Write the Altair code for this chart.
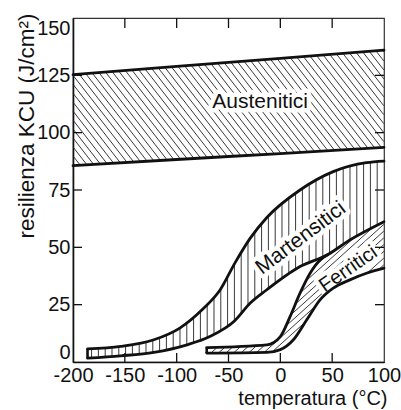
import altair as alt
import numpy as np
import pandas as pd

# ---------------- data ----------------
x_ticks = [-200, -150, -100, -50, 0, 50, 100]
y_ticks = [0, 25, 50, 75, 100, 125, 150]
x_inner_ticks = [-150, -100, -50, 0, 50]
y_inner_ticks = [25, 50, 75, 100, 125]

aus_up_x = [-200, -100, 0, 100]
aus_up_y = [125.3, 128.9, 132.4, 136.0]
aus_lo_x = [-200, -100, 0, 100]
aus_lo_y = [85.6, 88.3, 90.9, 93.6]

mar_up_x = [-186, -154, -122, -97, -75, -58, -44, -29, -13, 19, 51, 83, 100]
mar_up_y = [5.7, 6.8, 9.7, 14.8, 23.0, 31.5, 43.0, 54.0, 63.0, 75.0, 83.0, 86.9, 87.6]
mar_lo_x = [-186, -154, -122, -90, -68, -44, -29, -13, 19, 46, 67, 100]
mar_lo_y = [1.7, 2.7, 4.2, 7.5, 11.1, 18.0, 25.7, 31.5, 41.6, 46.9, 53.2, 61.2]

fer_up_x = [-71, -13, 0, 9.4, 19, 28.7, 38.3, 46]
fer_up_y = [6.3, 7.5, 11.1, 19.8, 30.0, 38.7, 44.5, 46.9]
fer_lo_x = [-71, -13, 0, 12.6, 25.5, 38.3, 51, 67, 83, 100]
fer_lo_y = [3.9, 4.2, 5.4, 9.7, 18.4, 27.1, 32.2, 35.8, 38.7, 40.9]

label_text = ["Austenitici", "Martensitici", "Ferritici"]
label_x = [-19.5, 19.8, 65.5]
label_y = [113.4, 54.0, 40.5]
label_angle = [0, 323, 325]
label_size = [21, 21, 20]

# ---------------- geometry helpers ----------------
W, H = 311, 344
XMIN, XMAX, YMIN, YMAX = -200, 100, 0, 150
FONT = "Liberation Sans"
INK = "#111111"


def mono(xs, ys, xq):
    """Monotone-X cubic, same as d3/vega 'monotone' interpolation."""
    xs = np.asarray(xs, float)
    ys = np.asarray(ys, float)
    xq = np.asarray(xq, float)
    n = len(xs)
    if n == 2:
        return np.interp(xq, xs, ys)
    h = np.diff(xs)
    s = np.diff(ys) / h
    t = np.zeros(n)
    for i in range(1, n - 1):
        h0, h1, s0, s1 = h[i - 1], h[i], s[i - 1], s[i]
        p = (s0 * h1 + s1 * h0) / (h0 + h1)
        t[i] = (np.sign(s0) + np.sign(s1)) * min(abs(s0), abs(s1), 0.5 * abs(p))
    t[0] = (3 * s[0] - t[1]) / 2
    t[-1] = (3 * s[-1] - t[-2]) / 2
    i = np.clip(np.searchsorted(xs, xq, side="right") - 1, 0, n - 2)
    dx = h[i]
    u = (xq - xs[i]) / dx
    h00 = 2 * u**3 - 3 * u**2 + 1
    h10 = u**3 - 2 * u**2 + u
    h01 = -2 * u**3 + 3 * u**2
    h11 = u**3 - u**2
    return h00 * ys[i] + h10 * dx * t[i] + h01 * ys[i + 1] + h11 * dx * t[i + 1]


def to_px(x):
    return (np.asarray(x, float) - XMIN) * W / (XMAX - XMIN)


def to_x(px):
    return XMIN + np.asarray(px, float) * (XMAX - XMIN) / W


def to_y(py):
    return (H - np.asarray(py, float)) * (YMAX - YMIN) / H


def diag_hatch(lo, hi, x0, x1, angle, gap, rising):
    k = np.tan(np.radians(angle))
    px = np.arange(0, W, 0.2)
    xd = to_x(px)
    xc = np.clip(xd, x0, x1)
    lo_v, hi_v = lo(xc), hi(xc)
    inband = (xd >= x0) & (xd <= x1)
    rows = []
    for c in np.arange(-H / k - gap, W + H / k + gap, gap):
        py = H - k * (px - c) if rising else k * (px - c)
        yd = to_y(py)
        ins = inband & (yd >= lo_v) & (yd <= hi_v)
        if not ins.any():
            continue
        d = np.diff(np.concatenate([[0], ins.astype(int), [0]]))
        starts = np.flatnonzero(d == 1)
        ends = np.flatnonzero(d == -1) - 1
        for a, b in zip(starts, ends):
            if b - a < 3:
                continue
            rows.append((xd[a], yd[a], xd[b], yd[b]))
    return rows


def vert_hatch(lo, hi, x0, x1, gap):
    pxs = np.arange(to_px(x0) + gap * 0.6, to_px(x1) - 0.5, gap)
    xs_ = to_x(pxs)
    return [(x, lo(x), x, hi(x)) for x in xs_]


aus_lo_f = lambda x: mono(aus_lo_x, aus_lo_y, x)
aus_hi_f = lambda x: mono(aus_up_x, aus_up_y, x)
mar_lo_f = lambda x: mono(mar_lo_x, mar_lo_y, x)
mar_hi_f = lambda x: mono(mar_up_x, mar_up_y, x)
fer_lo_f = lambda x: mono(fer_lo_x, fer_lo_y, x)
fer_hi_f = lambda x: np.where(np.asarray(x) <= fer_up_x[-1],
                              mono(fer_up_x, fer_up_y, np.minimum(x, fer_up_x[-1])),
                              mono(mar_lo_x, mar_lo_y, x))

rows = []
rows += diag_hatch(aus_lo_f, aus_hi_f, aus_up_x[0], aus_up_x[-1], 52, 7.0, rising=False)
rows += vert_hatch(mar_lo_f, mar_hi_f, mar_up_x[0], mar_up_x[-1], 6.8)
rows += diag_hatch(fer_lo_f, fer_hi_f, fer_up_x[0], fer_lo_x[-1], 42, 7.5, rising=True)
hatch_df = pd.DataFrame(rows, columns=["x", "y", "x2", "y2"])

curves = []
for name, xs_, ys_ in [("aus_up", aus_up_x, aus_up_y), ("aus_lo", aus_lo_x, aus_lo_y),
                        ("mar_up", mar_up_x, mar_up_y), ("mar_lo", mar_lo_x, mar_lo_y),
                        ("fer_up", fer_up_x, fer_up_y), ("fer_lo", fer_lo_x, fer_lo_y)]:
    curves.append(pd.DataFrame({"x": xs_, "y": ys_, "curve": name}))
lines_df = pd.concat(curves, ignore_index=True)

edges_df = pd.DataFrame({"x": [mar_up_x[0], fer_up_x[0]],
                         "y": [mar_lo_y[0], fer_lo_y[0]],
                         "y2": [mar_up_y[0], fer_up_y[0]]})

labels_df = pd.DataFrame({"text": label_text, "x": label_x, "y": label_y,
                          "angle": label_angle, "size": label_size})
xt_df = pd.DataFrame({"v": x_inner_ticks})
yt_df = pd.DataFrame({"v": y_inner_ticks})

# ---------------- scales and axes ----------------
xs = alt.Scale(domain=[XMIN, XMAX], nice=False, zero=False)
ys = alt.Scale(domain=[YMIN, YMAX], nice=False, zero=False)

x_axis = alt.Axis(values=x_ticks, labelExpr="'' + datum.value", grid=False, ticks=False, tickSize=0,
                  domainColor=INK, domainWidth=1.6, labelFont=FONT, labelFontSize=20, labelColor=INK,
                  labelPadding=3, labelFlush=False, labelOverlap=False,
                  title="temperatura (°C)", titleFont=FONT, titleFontSize=20, titleFontWeight="normal",
                  titleColor=INK, titleAlign="right", titleBaseline="alphabetic", titleX=314, titleY=42)
y_axis = alt.Axis(values=y_ticks, labelExpr="'' + datum.value", grid=False, ticks=False, tickSize=0,
                  domainColor=INK, domainWidth=1.6, labelFont=FONT, labelFontSize=20, labelColor=INK,
                  labelPadding=3, labelFlush=True, labelOverlap=False,
                  title="resilienza KCU (J/cm²)", titleFont=FONT, titleFontSize=22.5,
                  titleFontWeight="normal", titleColor=INK, titleAngle=270, titleAlign="right",
                  titleBaseline="alphabetic", titleX=-40, titleY=-5)


def X(f):
    return alt.X(f"{f}:Q", scale=xs, axis=x_axis)


def Y(f):
    return alt.Y(f"{f}:Q", scale=ys, axis=y_axis)


hatch = alt.Chart(hatch_df).mark_rule(color="#222222", strokeWidth=0.9).encode(
    x=X("x"), y=Y("y"), x2="x2:Q", y2="y2:Q")

halo = alt.Chart(labels_df).mark_text(font=FONT, align="center", baseline="middle",
                                      color="white", stroke="white", strokeWidth=9,
                                      strokeJoin="round").encode(
    x=X("x"), y=Y("y"), text="text:N", angle=alt.Angle("angle:Q", scale=None),
    size=alt.Size("size:Q", scale=None))

lines = alt.Chart(lines_df).mark_line(interpolate="monotone", color=INK, strokeWidth=2.8,
                                      strokeCap="round").encode(
    x=X("x"), y=Y("y"), detail="curve:N")

edges = alt.Chart(edges_df).mark_rule(color=INK, strokeWidth=2.6).encode(
    x=X("x"), y=Y("y"), y2="y2:Q")

tick_l = alt.Chart(yt_df).mark_rule(color=INK, strokeWidth=1.3).encode(
    y=Y("v"), x=alt.value(0), x2=alt.value(9))
tick_r = alt.Chart(yt_df).mark_rule(color=INK, strokeWidth=1.3).encode(
    y=Y("v"), x=alt.value(W - 9), x2=alt.value(W))
tick_t = alt.Chart(xt_df).mark_rule(color=INK, strokeWidth=1.3).encode(
    x=X("v"), y=alt.value(0), y2=alt.value(10))
tick_b = alt.Chart(xt_df).mark_rule(color=INK, strokeWidth=1.3).encode(
    x=X("v"), y=alt.value(H - 9), y2=alt.value(H))

text = alt.Chart(labels_df).mark_text(font=FONT, align="center", baseline="middle",
                                      color=INK).encode(
    x=X("x"), y=Y("y"), text="text:N", angle=alt.Angle("angle:Q", scale=None),
    size=alt.Size("size:Q", scale=None))

chart = alt.layer(hatch, halo, lines, edges, tick_l, tick_r, tick_t, tick_b, text).properties(
    width=W, height=H,
    padding={"left": 73, "top": 18, "right": 17, "bottom": 48},
    autosize=alt.AutoSizeParams(type="none"),
    background="white",
).configure_view(stroke="#333333", strokeWidth=1.2)

chart.save("out.html", embed_options={"renderer": "svg", "actions": False})
